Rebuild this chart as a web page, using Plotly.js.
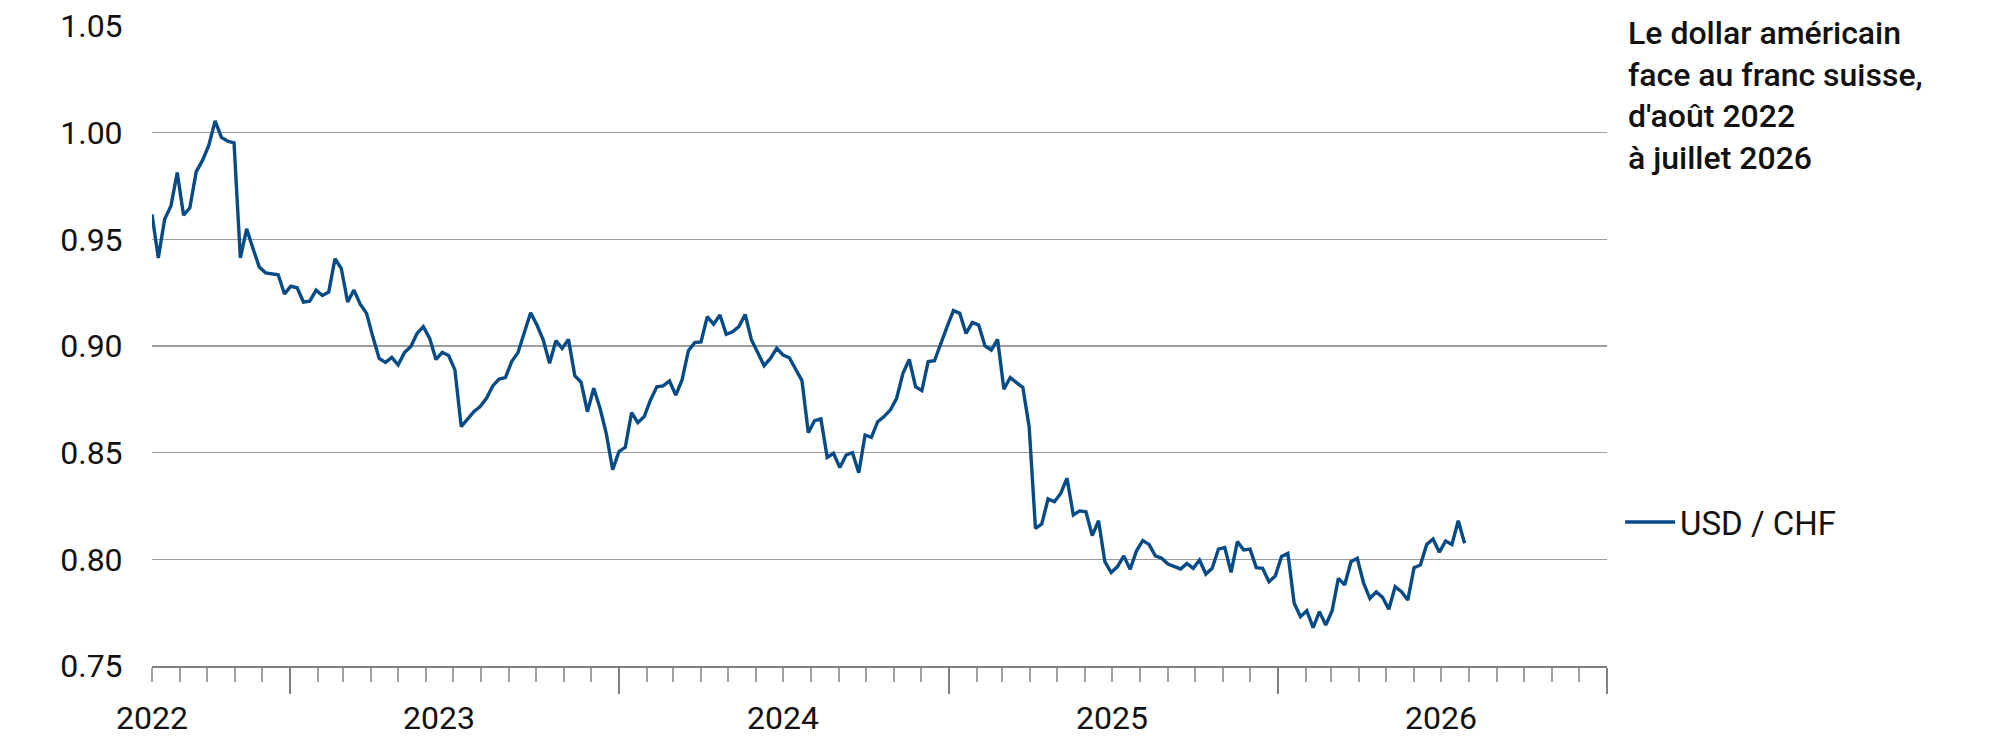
<!DOCTYPE html>
<html>
<head>
<meta charset="utf-8">
<script src="https://cdn.plot.ly/plotly-3.0.1.min.js"></script>
<style>
  body { margin: 0; background: #fff; }
  #plot { width: 2000px; height: 753px; }
</style>
</head>
<body>
<div id="plot"></div>
<script>
// weekly closes, first week starting 1 Aug 2022
const firstWeek = "2022-08-01"
const usdChf = [
    0.9617, 0.9413, 0.9594, 0.9656, 0.9813, 0.9613, 0.9648, 0.9816, 0.9870, 0.9940,
    1.0055, 0.9978, 0.9960, 0.9952, 0.9413, 0.9549, 0.9457, 0.9370, 0.9343, 0.9337,
    0.9334, 0.9244, 0.9280, 0.9273, 0.9206, 0.9210, 0.9262, 0.9237, 0.9253, 0.9409,
    0.9363, 0.9206, 0.9262, 0.9196, 0.9153, 0.9043, 0.8942, 0.8923, 0.8947, 0.8911,
    0.8969, 0.8997, 0.9059, 0.9091, 0.9036, 0.8937, 0.8970, 0.8955, 0.8888, 0.8622,
    0.8656, 0.8692, 0.8716, 0.8755, 0.8813, 0.8845, 0.8852, 0.8927, 0.8969, 0.9067,
    0.9156, 0.9098, 0.9028, 0.8919, 0.9025, 0.8989, 0.9031, 0.8861, 0.8830, 0.8692,
    0.8802, 0.8708, 0.8588, 0.8420, 0.8505, 0.8525, 0.8688, 0.8641, 0.8669, 0.8747,
    0.8809, 0.8813, 0.8836, 0.8770, 0.8841, 0.8978, 0.9016, 0.9019, 0.9138, 0.9102,
    0.9145, 0.9055, 0.9067, 0.9091, 0.9148, 0.9028, 0.8966, 0.8908, 0.8942, 0.8989,
    0.8958, 0.8945, 0.8891, 0.8838, 0.8594, 0.8650, 0.8658, 0.8478, 0.8497, 0.8430,
    0.8489, 0.8500, 0.8406, 0.8583, 0.8572, 0.8645, 0.8669, 0.8700, 0.8755, 0.8872,
    0.8937, 0.8809, 0.8791, 0.8927, 0.8931, 0.9017, 0.9091, 0.9166, 0.9153, 0.9059,
    0.9111, 0.9098, 0.9000, 0.8981, 0.9031, 0.8797, 0.8852, 0.8828, 0.8806, 0.8622,
    0.8145, 0.8166, 0.8283, 0.8270, 0.8309, 0.8380, 0.8208, 0.8227, 0.8223, 0.8111,
    0.8181, 0.7989, 0.7938, 0.7966, 0.8016, 0.7953, 0.8039, 0.8088, 0.8070, 0.8016,
    0.8005, 0.7978, 0.7966, 0.7955, 0.7981, 0.7958, 0.7997, 0.7931, 0.7958, 0.8048,
    0.8055, 0.7939, 0.8083, 0.8044, 0.8048, 0.7961, 0.7958, 0.7895, 0.7922, 0.8013,
    0.8028, 0.7794, 0.7731, 0.7759, 0.7680, 0.7755, 0.7692, 0.7758, 0.7911, 0.7880,
    0.7989, 0.8005, 0.7888, 0.7817, 0.7848, 0.7822, 0.7766, 0.7872, 0.7848, 0.7809,
    0.7961, 0.7973, 0.8070, 0.8095, 0.8033, 0.8086, 0.8070, 0.8181, 0.8075
]
const yTicks = [0.75, 0.80, 0.85, 0.90, 0.95, 1.00, 1.05]
const yearLabels = ["2022", "2023", "2024", "2025", "2026"]
const yearLabelDates = ["2022-08-01", "2023-06-15", "2024-07-01", "2025-07-01", "2026-07-01"]
const xRange = ["2022-08-01", "2027-01-01"]
const titleLines = ["Le dollar américain", "face au franc suisse,", "d'août 2022", "à juillet 2026"]
const seriesName = "USD / CHF"

function weekDates(start, n){
    const out = []
    const d0 = new Date(start + "T00:00:00Z")
    for (let i = 0; i < n; i++){
        const d = new Date(d0.getTime() + i*7*86400000)
        out.push(d.toISOString().slice(0, 10))
    }
    return out
}

function plot(){
    const
        font = "Roboto, 'Open Sans', sans-serif",
        blue = "#064b86",
        dates = weekDates(firstWeek, usdChf.length)

    const data = [{
        x: dates,
        y: usdChf,
        type: "scatter",
        mode: "lines",
        name: seriesName,
        line: {color: blue, width: 3.4}
    }]

    // year labels sit between the year ticks, 2022 under the axis start
    const yearAnnotations = yearLabels.map((txt, i) => ({
        xref: "x", yref: "paper",
        x: yearLabelDates[i], y: 0,
        xanchor: "center", yanchor: "middle",
        yshift: -52,
        showarrow: false,
        text: txt,
        font: {family: font, size: 32, color: "#111"}
    }))

    const layout = {
        width: 2000,
        height: 753,
        margin: {l: 152, r: 393, t: 26, b: 87},
        paper_bgcolor: "#fff",
        plot_bgcolor: "#fff",
        font: {family: font, size: 32, color: "#111"},
        showlegend: true,
        legend: {
            x: 1.009, xanchor: "left",
            y: 0.225, yanchor: "middle",
            itemwidth: 50,
            font: {family: font, size: 33, color: "#111"}
        },
        xaxis: {
            type: "date",
            range: xRange,
            showgrid: false,
            zeroline: false,
            showline: true,
            linecolor: "#808080",
            linewidth: 2,
            ticks: "outside",
            tickmode: "linear",
            tick0: "2023-01-01",
            dtick: "M12",
            ticklen: 26,
            tickwidth: 2,
            tickcolor: "#808080",
            showticklabels: false,
            minor: {
                tickmode: "linear",
                tick0: "2022-08-01",
                dtick: "M1",
                ticks: "outside",
                ticklen: 14,
                tickwidth: 1.5,
                tickcolor: "#a0a0a0",
                showgrid: false
            },
            fixedrange: true
        },
        yaxis: {
            range: [0.75, 1.05],
            tickmode: "array",
            tickvals: yTicks,
            tickformat: ".2f",
            showgrid: true,
            gridcolor: "#9d9d9d",
            gridwidth: 1.3,
            zeroline: false,
            showline: false,
            ticks: "outside",
            ticklen: 22,
            tickcolor: "rgba(0,0,0,0)",
            tickfont: {family: font, size: 32, color: "#111"}
        },
        annotations: [{
            xref: "paper", yref: "paper",
            x: 1.013, xanchor: "left",
            y: 1.0, yanchor: "top",
            yshift: 14,
            align: "left",
            showarrow: false,
            text: titleLines.join("<br>"),
            font: {family: font, size: 32, color: "#111", weight: 500}
        }].concat(yearAnnotations)
    }

    Plotly.newPlot("plot", data, layout, {staticPlot: true})
}

plot()
</script>
</body>
</html>
